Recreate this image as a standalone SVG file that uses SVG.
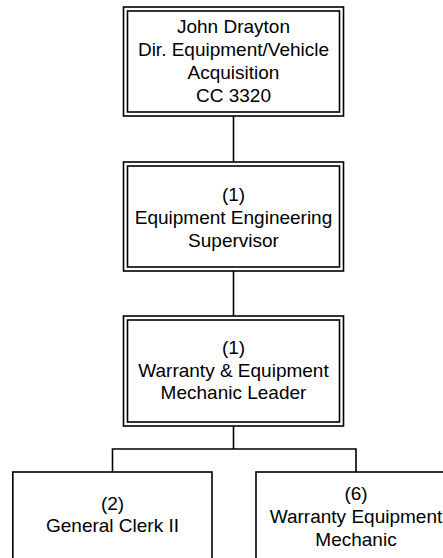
<svg xmlns="http://www.w3.org/2000/svg" width="443" height="558" viewBox="0 0 443 558">
<style>
.bg{fill:#fff}
.b{fill:none;stroke:#000;stroke-width:1.6}
.t{font-family:"Liberation Sans",Arial,sans-serif;font-size:19px;fill:#000;text-anchor:middle}
.c{fill:none;stroke:#000;stroke-width:1.6}
</style>
<rect class="bg" x="0" y="0" width="443" height="558"/>
<g id="connectors">
<line class="c" x1="233.5" y1="116" x2="233.5" y2="162"/>
<line class="c" x1="233.5" y1="271" x2="233.5" y2="316"/>
<polyline class="c" points="233.5,426 233.5,449"/>
<polyline class="c" points="112.5,472 112.5,449 356,449 356,472"/>
</g>
<g id="n1">
<rect class="b" x="123.5" y="7" width="220" height="109"/>
<rect class="b" x="127.5" y="11" width="212" height="101"/>
<text class="t" x="233.5" y="33.2">John Drayton</text>
<text class="t" x="233.5" y="56">Dir. Equipment/Vehicle</text>
<text class="t" x="233.5" y="78.8">Acquisition</text>
<text class="t" x="233.5" y="101.6">CC 3320</text>
</g>
<g id="n2">
<rect class="b" x="123.5" y="162" width="220" height="109"/>
<rect class="b" x="127.5" y="166" width="212" height="101"/>
<text class="t" x="233.5" y="201">(1)</text>
<text class="t" x="233.5" y="224">Equipment Engineering</text>
<text class="t" x="233.5" y="246.6">Supervisor</text>
</g>
<g id="n3">
<rect class="b" x="123.5" y="316" width="220" height="110"/>
<rect class="b" x="127.5" y="320" width="212" height="102"/>
<text class="t" x="233.5" y="353.5">(1)</text>
<text class="t" x="233.5" y="376.5">Warranty &amp; Equipment</text>
<text class="t" x="233.5" y="399.3">Mechanic Leader</text>
</g>
<g id="n4">
<rect class="b" x="12.8" y="472" width="199.2" height="100"/>
<text class="t" x="112.5" y="509.5">(2)</text>
<text class="t" x="112.5" y="531.8">General Clerk II</text>
</g>
<g id="n5">
<rect class="b" x="256" y="472" width="200" height="100"/>
<text class="t" x="356" y="500">(6)</text>
<text class="t" x="356" y="522.8">Warranty Equipment</text>
<text class="t" x="356" y="545.6">Mechanic</text>
</g>
</svg>
